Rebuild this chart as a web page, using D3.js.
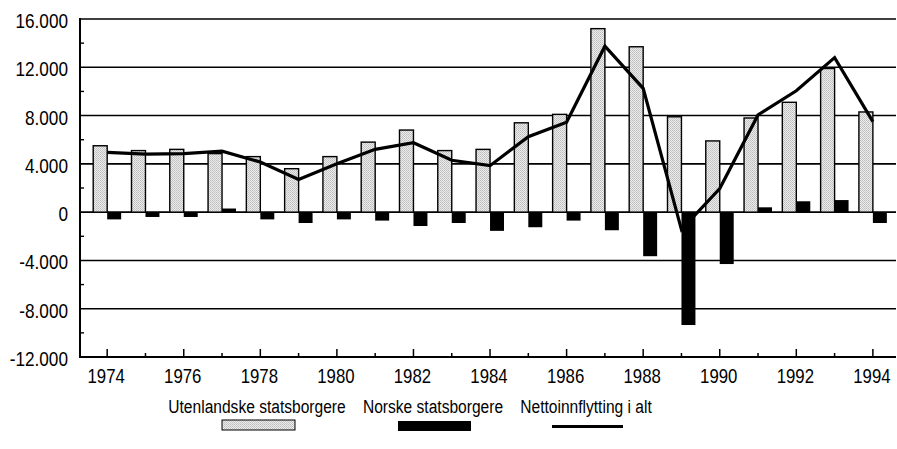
<!DOCTYPE html>
<html>
<head>
<meta charset="utf-8">
<script src="https://cdn.jsdelivr.net/npm/d3@7"></script>
<style>
  html, body { margin: 0; padding: 0; background: #fff; }
  svg { display: block; }
  text { font-family: "Liberation Sans", Arial, Helvetica, sans-serif; fill: #000; }
</style>
</head>
<body>
<script>
const years = d3.range(1974, 1995);
const utenlandske = [5500,5100,5200,4850,4600,3600,4600,5800,6800,5100,5200,7400,8100,15200,13700,7900,5900,7800,9100,11900,8300];
const norske = [-600,-400,-400,300,-600,-900,-600,-700,-1150,-900,-1550,-1250,-700,-1500,-3650,-9350,-4300,400,900,1000,-900];
const netto = [4950,4800,4850,5050,4150,2700,4000,5200,5750,4300,3850,6250,7450,13750,10250,-1450,1950,8050,10050,12800,7500];
const yTicks = [-12000,-8000,-4000,0,4000,8000,12000,16000];
const yTickLabels = ["-12.000","-8.000","-4.000","0","4.000","8.000","12.000","16.000"];
const xTicks = [1974,1976,1978,1980,1982,1984,1986,1988,1990,1992,1994];
const legendLabels = ["Utenlandske statsborgere", "Norske statsborgere", "Nettoinnflytting i alt"];

const W = 897, H = 449;
const svg = d3.select("body").append("svg").attr("width", W).attr("height", H);

const defs = svg.append("defs");
const pat = defs.append("pattern").attr("id","stip").attr("patternUnits","userSpaceOnUse")
  .attr("width",2).attr("height",2);
pat.append("rect").attr("width",2).attr("height",2).attr("fill","#ececec");
pat.append("rect").attr("width",1).attr("height",1).attr("fill","#bdbdbd");
pat.append("rect").attr("x",1).attr("y",1).attr("width",1).attr("height",1).attr("fill","#c8c8c8");

const x = d3.scaleLinear().domain([1973.29, 1994.63]).range([80, 897]);
const y = d3.scaleLinear().domain([-12000, 16000]).range([357, 19]);
const bw = x(1974.365) - x(1974);

// gridlines
svg.append("g").selectAll("line").data(yTicks.filter(d => d !== -12000)).join("line")
  .attr("x1", 80).attr("x2", 896).attr("y1", d => y(d)).attr("y2", d => y(d))
  .attr("stroke", "#000").attr("stroke-width", 1.6);

// gray bars
svg.append("g").selectAll("rect").data(years).join("rect")
  .attr("x", (d) => x(d) - bw).attr("width", bw)
  .attr("y", (d,i) => y(Math.max(0, utenlandske[i])))
  .attr("height", (d,i) => Math.abs(y(utenlandske[i]) - y(0)))
  .attr("fill", "url(#stip)").attr("stroke", "#000").attr("stroke-width", 1.4);

// black bars
svg.append("g").selectAll("rect").data(years).join("rect")
  .attr("x", d => x(d)).attr("width", bw)
  .attr("y", (d,i) => y(Math.max(0, norske[i])))
  .attr("height", (d,i) => Math.abs(y(norske[i]) - y(0)))
  .attr("fill", "#000");

// line
const line = d3.line().x((d,i) => x(years[i])).y(d => y(d));
svg.append("path").datum(netto).attr("d", line)
  .attr("fill","none").attr("stroke","#000").attr("stroke-width",3.2).attr("stroke-linejoin","miter");

// axes
svg.append("line").attr("x1",80).attr("x2",80).attr("y1",18).attr("y2",358).attr("stroke","#000").attr("stroke-width",2);
svg.append("line").attr("x1",79).attr("x2",896).attr("y1",357).attr("y2",357).attr("stroke","#000").attr("stroke-width",2);

// y minor ticks
svg.append("g").selectAll("line").data(d3.range(-10000, 16000, 4000)).join("line")
  .attr("x1",80).attr("x2",84).attr("y1",d=>y(d)).attr("y2",d=>y(d)).attr("stroke","#000").attr("stroke-width",1.4);

// x ticks
svg.append("g").selectAll("line").data(years).join("line")
  .attr("x1",d=>x(d)).attr("x2",d=>x(d)).attr("y1",357)
  .attr("y2",d => (d % 2 === 0) ? 349 : 353)
  .attr("stroke","#000").attr("stroke-width",1.5);

// y labels (narrowed)
svg.append("g").selectAll("text").data(yTicks).join("text")
  .attr("transform", d => `translate(68,${y(d) + 9}) scale(0.86,1)`)
  .attr("text-anchor","end").attr("font-size", 20)
  .text((d,i) => yTickLabels[i]);

// x labels
svg.append("g").selectAll("text").data(xTicks).join("text")
  .attr("transform", d => `translate(${x(d) - 1},383) scale(0.84,1)`)
  .attr("text-anchor","middle").attr("font-size", 20)
  .text(d => d);

// legend
const lg = svg.append("g");
const lx = [257, 433, 586];
lg.selectAll("text").data(legendLabels).join("text")
  .attr("transform",(d,i)=>`translate(${lx[i]},413) scale(0.82,1)`)
  .attr("text-anchor","middle").attr("font-size",19)
  .text(d=>d);
lg.append("rect").attr("x",222).attr("y",420).attr("width",73).attr("height",10)
  .attr("fill","url(#stip)").attr("stroke","#000").attr("stroke-width",1);
lg.append("rect").attr("x",398).attr("y",421).attr("width",73).attr("height",10).attr("fill","#000");
lg.append("line").attr("x1",552).attr("x2",623).attr("y1",426.5).attr("y2",426.5).attr("stroke","#000").attr("stroke-width",3);
</script>
</body>
</html>
